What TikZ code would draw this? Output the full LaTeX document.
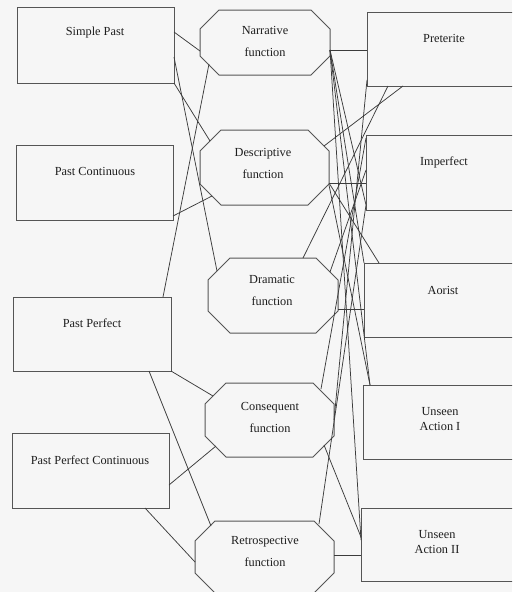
\documentclass[tikz,border=0pt]{standalone}
\usepackage{fontspec}
\setmainfont{Liberation Serif}
\usetikzlibrary{calc}
\definecolor{bg}{RGB}{246,246,246}
\definecolor{edge}{RGB}{85,85,85}
\definecolor{wire}{RGB}{60,60,60}
\definecolor{ink}{RGB}{30,30,30}
\newcommand\octo[2]{%
  \draw[oct] ([xshift=#2]#1.north west) -- ([xshift=-#2]#1.north east) -- ([yshift=-#2]#1.north east) -- ([yshift=#2]#1.south east) -- ([xshift=-#2]#1.south east) -- ([xshift=#2]#1.south west) -- ([yshift=#2]#1.south west) -- ([yshift=-#2]#1.north west) -- cycle;}
\begin{document}
\begin{tikzpicture}[x=1pt,y=-1pt,
  box/.style={draw=edge, line width=1pt, inner sep=0pt, outer sep=0pt},
  shell/.style={inner sep=0pt, outer sep=0pt},
  oct/.style={draw=edge, line width=1pt},
  txt/.style={text=ink, font=\fontsize{12.3}{14}\selectfont, inner sep=0pt},
  otxt/.style={text=ink, font=\fontsize{12.3}{22}\selectfont, align=center, inner sep=0pt},
  rtxt/.style={text=ink, font=\fontsize{12.3}{15}\selectfont, align=center, inner sep=0pt},
  wire/.style={draw=wire, line width=0.75pt}]
\useasboundingbox (0,0) rectangle (512,592);
\fill[bg] (0,0) rectangle (512,592);
\clip (0,0) rectangle (512,592);

% left boxes
\node[box, minimum width=157pt, minimum height=76pt] (sp) at (95.5,45) {};
\node[box, minimum width=157pt, minimum height=75pt] (pc) at (94.5,182.5) {};
\node[box, minimum width=158pt, minimum height=74pt] (pp) at (92,334) {};
\node[box, minimum width=157pt, minimum height=75pt] (ppc) at (90.5,470.5) {};
\node[txt] (spt) at (95,33) {Simple Past};
\node[txt] (pct) at (95,171) {Past Continuous};
\node[txt] (ppt) at (92,323) {Past Perfect};
\node[txt] (ppct) at (90,460) {Past Perfect Continuous};

% middle octagons
\node[shell, minimum width=130pt, minimum height=65pt] (nar) at (265,42.5) {};
\node[shell, minimum width=129pt, minimum height=75pt] (desc) at (264.5,167.5) {};
\node[shell, minimum width=130pt, minimum height=75pt] (dram) at (273,295.5) {};
\node[shell, minimum width=129pt, minimum height=74pt] (cons) at (269.5,420) {};
\node[shell, minimum width=139pt, minimum height=72pt] (retro) at (264.5,557) {};
\octo{nar}{19pt}
\octo{desc}{21pt}
\octo{dram}{22pt}
\octo{cons}{21pt}
\octo{retro}{20pt}
\node[otxt] (nart) at (265,41) {Narrative\\function};
\node[otxt] (desct) at (263,163) {Descriptive\\function};
\node[otxt] (dramt) at (272,290.5) {Dramatic\\function};
\node[otxt] (const) at (270,417.5) {Consequent\\function};
\node[otxt] (retrot) at (265,551.5) {Retrospective\\function};

% right boxes
\node[box, minimum width=163pt, minimum height=74pt] (pret) at (448.5,49) {};
\node[box, minimum width=164pt, minimum height=75pt] (imp) at (448,172.5) {};
\node[box, minimum width=166pt, minimum height=74pt] (aor) at (447,300) {};
\node[box, minimum width=167pt, minimum height=74pt] (ua1) at (446.5,422) {};
\node[box, minimum width=169pt, minimum height=73pt] (ua2) at (445.5,544.5) {};
\node[txt] (prett) at (444,38) {Preterite};
\node[txt] (impt) at (444,162) {Imperfect};
\node[txt] (aort) at (443,290) {Aorist};
\node[rtxt] (ua1t) at (440,419.5) {Unseen\\Action I};
\node[rtxt] (ua2t) at (437,542) {Unseen\\Action II};

% left connectors
\draw[wire] (sp.east |- 0,32) -- (nar.west |- 0,51);
\draw[wire] (sp.east |- 0,57) -- ($(dram.north west)+(9,13)$);
\draw[wire] (sp.south east) -- ($(desc.north west)+(10,11)$);
\draw[wire] ($(nar.south west)+(9,-11)$) -- ($(pp.north east)+(-8,0)$);
\draw[wire] (pc.east |- 0,216) -- ($(desc.south west)+(12,-9)$);
\draw[wire] (pp.south east) -- ($(cons.north west)+(8,13)$);
\draw[wire] ($(pp.south east)+(-22,0)$) -- ($(retro.north west)+(16,5)$);
\draw[wire] (ppc.east |- 0,485) -- ($(cons.south west)+(11,-11)$);
\draw[wire] ($(ppc.south east)+(-24,0)$) -- (retro.west |- 0,562);

% right connectors
\draw[wire] (nar.east |- 0,50) -- (pret.west |- 0,50);
\draw[wire] (desc.east |- 0,183) -- (imp.west |- 0,183);
\draw[wire] (dram.east |- 0,309) -- (aor.west |- 0,309);
\draw[wire] (retro.east |- 0,555) -- (ua2.west |- 0,555);
\draw[wire] ($(desc.north east)+(-5,16)$) -- ($(pret.south west)+(36,0)$);
\draw[wire] ($(dram.north west)+(95,0)$) -- ($(pret.south west)+(21,0)$);
\draw[wire] (desc.east |- 0,183) -- ($(aor.north west)+(15,0)$);
\draw[wire] (desc.east |- 0,185) -- ($(ua1.north west)+(7,0)$);
\draw[wire] ($(cons.south east)+(-10,-12)$) -- (ua2.west |- 0,537);
\draw[wire] ($(retro.north east)+(-15,3)$) -- (imp.west |- 0,205);
\draw[wire] (nar.east |- 0,50) -- (imp.west |- 0,205);
\draw[wire] (nar.east |- 0,50) -- (aor.north west);
\draw[wire] (nar.east |- 0,50) -- ($(ua1.north west)+(7,0)$);
\draw[wire] (nar.east |- 0,50) -- (ua2.west |- 0,540);
\draw[wire] (cons.east |- 0,420) -- (pret.west |- 0,80);
\draw[wire] ($(cons.north east)+(-13,6)$) -- (imp.west |- 0,138);
\draw[wire] ($(dram.north east)+(-8,14)$) -- (imp.west |- 0,170);
\end{tikzpicture}
\end{document}
